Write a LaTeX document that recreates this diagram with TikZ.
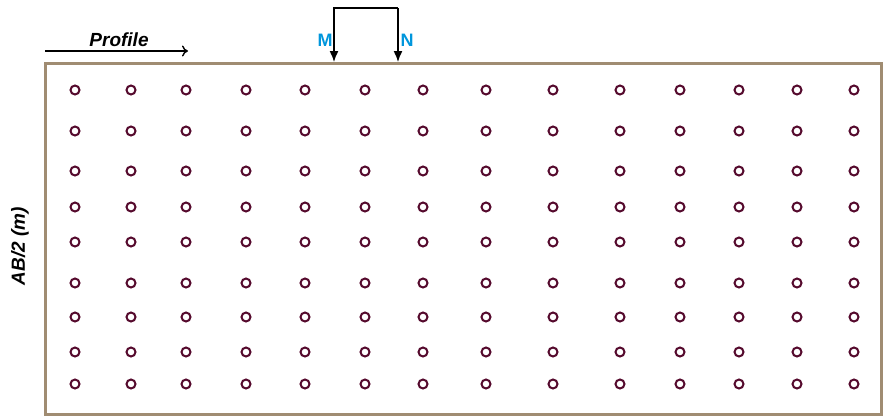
\documentclass[tikz,border=0pt]{standalone}
\usepackage{fontspec}
\setmainfont{Liberation Sans}
\usetikzlibrary{arrows.meta}
\definecolor{frame}{RGB}{160,140,114}
\definecolor{dot}{RGB}{85,10,45}
\definecolor{elec}{RGB}{0,150,220}
\begin{document}
\begin{tikzpicture}[x=1pt,y=-1pt,
  pt/.style={circle,draw=dot,line width=2pt,minimum size=9pt,inner sep=0pt},
  lbl/.style={font=\fontsize{19}{19}\selectfont\bfseries\itshape,inner sep=0pt},
  elabel/.style={font=\fontsize{18}{18}\selectfont\bfseries,text=elec,inner sep=0pt},
  wire/.style={line width=1.4pt,black}]
\useasboundingbox (0,0) rectangle (886,418);
% section frame
\draw[frame,line width=3pt] (45,63) rectangle (881,414);
% measurement points
\foreach \y in {90,131,171,207,242,283,317,352,384}{
  \foreach \x in {75,131,186,246,305,365,423,486,553,620,680,739,797,854}{
    \node[pt] at (\x,\y) {};
  }
}
% profile direction
\coordinate (p0) at (45,51);
\coordinate (p1) at (188,51);
\draw[wire,-{To[length=6pt,width=11pt]}] (p0) -- (p1);
\node[lbl] (prof) at (119,40) {Profile};
% potential electrodes
\coordinate (m0) at (334,62);
\coordinate (n0) at (398,62);
\coordinate (mt) at (334,8);
\coordinate (nt) at (398,8);
\draw[wire,-{Latex[length=11pt,width=9pt]}] (nt) -- (mt) -- (m0);
\draw[wire,-{Latex[length=11pt,width=9pt]}] (nt) -- (n0);
\node[elabel] (M) at (325,40) {M};
\node[elabel] (N) at (407,40) {N};
% vertical axis label
\node[lbl,rotate=90] (ab) at (20,246) {AB/2 (m)};
\end{tikzpicture}
\end{document}
